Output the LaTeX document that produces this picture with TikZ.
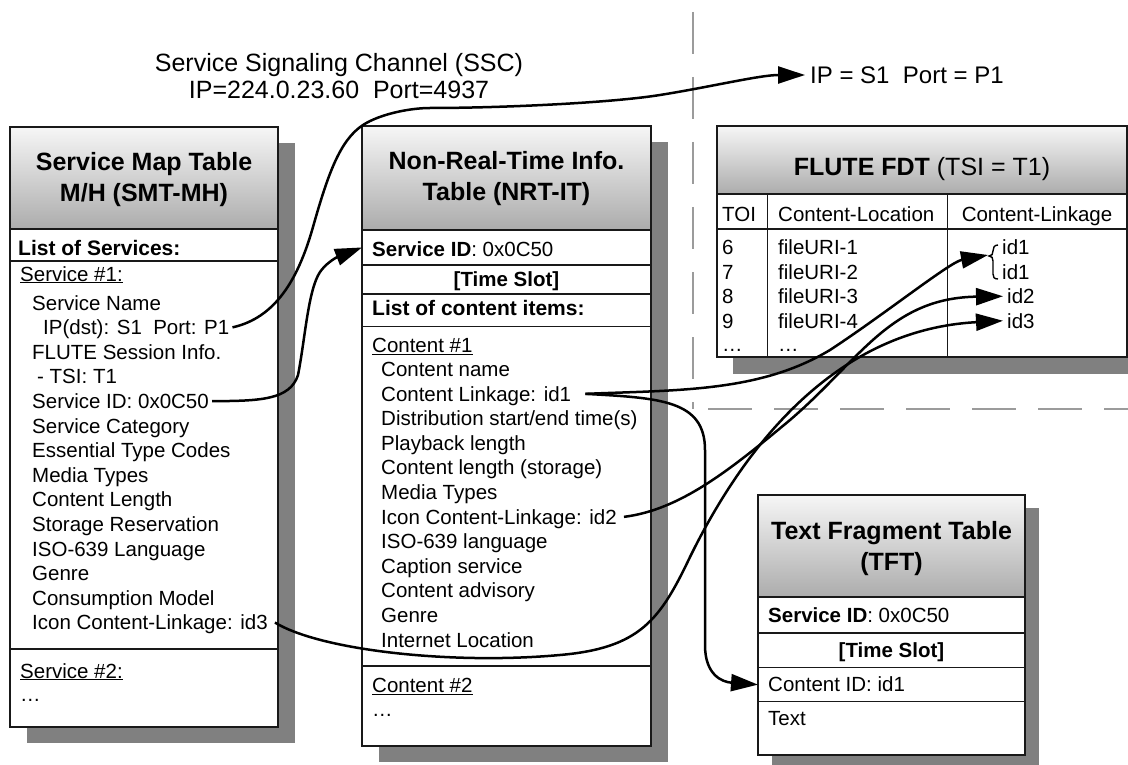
\documentclass[tikz,border=0pt]{standalone}
\usepackage{fontspec}
\setmainfont{Liberation Sans}
\usetikzlibrary{arrows.meta}
\definecolor{shadowgray}{RGB}{128,128,128}
\definecolor{hdrtop}{RGB}{246,246,246}
\definecolor{hdrbot}{RGB}{172,172,172}
\definecolor{dashgray}{RGB}{155,155,155}
\definecolor{edge}{RGB}{25,25,25}
\newcommand{\bodyfont}{\fontsize{20.5}{24.6}\selectfont}
\newcommand{\hdrfont}{\fontsize{25}{31}\selectfont\bfseries}
\newcommand{\lblfont}{\fontsize{25}{27}\selectfont}
\begin{document}
\begin{tikzpicture}[x=1pt,y=-1pt,
  bodybox/.style={fill=white,draw=edge,line width=1.3pt},
  hdrbox/.style={top color=hdrtop,bottom color=hdrbot,draw=edge,line width=1.3pt},
  sepline/.style={draw=edge,line width=1.3pt},
  colline/.style={draw=edge,line width=1pt},
  cell/.style={draw=edge,line width=1.3pt,inner sep=0pt,anchor=north west},
  txt/.style={anchor=base west,inner sep=0pt,font=\bodyfont,text height=14.5pt,text depth=0pt},
  ctxt/.style={txt,anchor=base,font=\bodyfont\bfseries},
  boldtxt/.style={txt,font=\fontsize{21}{25}\selectfont\bfseries},
  hdrtxt/.style={align=center,inner sep=0pt,font=\hdrfont},
  conn/.style={draw=black,line width=2.5pt},
  arrconn/.style={conn,-{Triangle[length=27pt 0 0,width=17pt 0 0]}},
  dashline/.style={draw=dashgray,line width=2.5pt,dash pattern=on 42pt off 23pt}
]
\useasboundingbox (0,0) rectangle (1128,765);
\fill[white] (0,0) rectangle (1128,765);

% dashed separators
\draw[dashline] (693,12) -- (693,409);
\draw[dashline,dash pattern=on 44pt off 22pt] (708,409) -- (1128,409);

% top labels
\node[align=center,inner sep=0pt,font=\lblfont] (ssc) at (339,76)
  {Service Signaling Channel (SSC)\\IP=224.0.23.60~~Port=4937};
\node[anchor=base west,inner sep=0pt,font=\fontsize{24}{28}\selectfont,text height=17pt,text depth=0pt]
  (ipsp) at (810,83.5) {IP = S1~~Port = P1};

% ---------- SMT-MH ----------
\fill[shadowgray] (27,143) rectangle (295,743);
\path[bodybox] (10,127) rectangle (278,727);
\path[hdrbox] (10,127) rectangle (278,229);
\draw[sepline] (10,261) -- (278,261);
\draw[sepline] (10,649) -- (278,649);
\node[hdrtxt] (smttitle) at (144,180) {Service Map Table\\M/H (SMT-MH)};
\node[boldtxt] (smtlist) at (18,255.5) {List of Services:};
\node[txt] (smts1) at (20,281) {\underline{Service \#1:}};
\node[txt] (smtname) at (32,310) {Service Name};
\node[txt] (smtip) at (43,334.6) {IP(dst): S1~~Port: P1};
\node[txt] (smtflute) at (32,359.2) {FLUTE Session Info.};
\node[txt] (smttsi) at (37,383.8) {- TSI: T1};
\node[txt] (smtsid) at (32,408.4) {Service ID: 0x0C50};
\node[txt] (smtcat) at (32,433) {Service Category};
\node[txt] (smtess) at (32,457.6) {Essential Type Codes};
\node[txt] (smtmedia) at (32,482.2) {Media Types};
\node[txt] (smtlen) at (32,506.8) {Content Length};
\node[txt] (smtstor) at (32,531.4) {Storage Reservation};
\node[txt] (smtiso) at (32,556) {ISO-639 Language};
\node[txt] (smtgenre) at (32,580.6) {Genre};
\node[txt] (smtcons) at (32,605.2) {Consumption Model};
\node[txt] (smtid3) at (32,629.8) {Icon Content-Linkage: id3};
\node[txt] (smts2) at (20,678) {\underline{Service \#2:}};
\node[txt] (smtdots) at (20,701.7) {…};

% ---------- NRT-IT ----------
\fill[shadowgray] (379,142) rectangle (668,762);
\path[bodybox] (362,126) rectangle (651,746);
\path[hdrbox] (362,126) rectangle (651,229.3);
\node[cell,minimum width=289pt,minimum height=35pt] (nrtsidrow) at (362,229.3) {};
\draw[sepline] (362,294) -- (651,294);
\draw[sepline] (362,326.7) -- (651,326.7);
\draw[sepline] (362,666) -- (651,666);
\node[hdrtxt] (nrttitle) at (506.5,178.7) {Non-Real-Time Info.\\Table (NRT-IT)};
\node[txt] (nrtsid) at (372,256.5) {\textbf{Service ID}: 0x0C50};
\node[ctxt] (nrtslot) at (506.5,286.5) {[Time Slot]};
\node[boldtxt] (nrtlist) at (372,315.5) {List of content items:};
\node[txt] (nrtc1) at (372,352.5) {\underline{Content \#1}};
\node[txt] (nrtname) at (381,376.5) {Content name};
\node[txt] (nrtlink) at (381,401.1) {Content Linkage: id1};
\node[txt] (nrtdist) at (381,425.7) {Distribution start/end time(s)};
\node[txt] (nrtplay) at (381,450.3) {Playback length};
\node[txt] (nrtclen) at (381,474.9) {Content length (storage)};
\node[txt] (nrtmedia) at (381,499.5) {Media Types};
\node[txt] (nrtid2) at (381,524.1) {Icon Content-Linkage: id2};
\node[txt] (nrtiso) at (381,548.7) {ISO-639 language};
\node[txt] (nrtcap) at (381,573.3) {Caption service};
\node[txt] (nrtadv) at (381,597.9) {Content advisory};
\node[txt] (nrtgenre) at (381,622.5) {Genre};
\node[txt] (nrtinet) at (381,647.1) {Internet Location};
\node[txt] (nrtc2) at (372,692.7) {\underline{Content \#2}};
\node[txt] (nrtdots) at (372,716.7) {…};

% ---------- FLUTE FDT ----------
\fill[shadowgray] (733,142) rectangle (1143,374);
\path[bodybox] (717,126) rectangle (1127,357);
\path[hdrbox] (717,126) rectangle (1127,194);
\draw[sepline] (717,229) -- (1127,229);
\draw[colline] (767,194) -- (767,357);
\draw[colline] (947,194) -- (947,357);
\node[anchor=base,inner sep=0pt,font=\fontsize{25}{30}\selectfont] (fdttitle) at (922,175.7)
  {\textbf{FLUTE FDT} (TSI = T1)};
\node[txt] (fdttoi) at (722,221.5) {TOI};
\node[txt] (fdtloc) at (778,221.5) {Content-Location};
\node[txt,anchor=base] (fdtlink) at (1037,221.5) {Content-Linkage};
\node[txt] (t6) at (722,254.5) {6};
\node[txt] (t7) at (722,279) {7};
\node[txt] (t8) at (722,303.5) {8};
\node[txt] (t9) at (722,328) {9};
\node[txt] (tdots) at (722,351) {…};
\node[txt] (f1) at (778,254.5) {fileURI-1};
\node[txt] (f2) at (778,279) {fileURI-2};
\node[txt] (f3) at (778,303.5) {fileURI-3};
\node[txt] (f4) at (778,328) {fileURI-4};
\node[txt] (fdots) at (778,351) {…};
\node[txt] (fdtid1a) at (1002,254.5) {id1};
\node[txt] (fdtid1b) at (1002,279) {id1};
\node[txt] (fdtid2) at (1007,303.5) {id2};
\node[txt] (fdtid3) at (1007,328) {id3};
\draw[line width=1.4pt] (998,245) .. controls (994,245) and (993,248) .. (993,251)
  .. controls (993,254) and (992,256) .. (989,256)
  .. controls (992,256) and (993,258) .. (993,261) -- (993,274)
  .. controls (993,277) and (994,279) .. (998,279);
\coordinate (bracetip) at (988,255);

% ---------- TFT ----------
\fill[shadowgray] (772,508) rectangle (1039,770);
\path[bodybox] (758,495) rectangle (1025,755);
\path[hdrbox] (758,495) rectangle (1025,597);
\draw[sepline] (758,633) -- (1025,633);
\node[cell,minimum width=267pt,minimum height=34pt] (tftcidrow) at (758,667) {};
\node[hdrtxt] (tfttitle) at (891.5,548.5) {Text Fragment Table\\(TFT)};
\node[txt] (tftsid) at (768,622.5) {\textbf{Service ID}: 0x0C50};
\node[ctxt] (tftslot) at (891.5,657.5) {[Time Slot]};
\node[txt] (tftcid) at (768,691.5) {Content ID: id1};
\node[txt] (tfttext) at (768,725.5) {Text};

% ---------- connectors ----------
\draw[arrconn] ([xshift=3pt]smtip.east) .. controls (275,318) and (298,280) .. (313,227)
  .. controls (328,174) and (340,140) .. (363,125)
  .. controls (380,114) and (410,108) .. (430,108)
  .. controls (500,108) and (610,103) .. (660,95)
  .. controls (710,87) and (760,75) .. ([xshift=-5pt]ipsp.west);
\draw[arrconn] ([xshift=3pt]smtsid.east) .. controls (260,401) and (290,400) .. (298,375)
  .. controls (305,340) and (308,290) .. (320,272)
  .. controls (330,258) and (345,254) .. (nrtsidrow.west);
\draw[arrconn] ([xshift=14pt]nrtlink.east) .. controls (680,390) and (760,392) .. (830,350)
  .. controls (885,314) and (950,262) .. (bracetip);
\draw[arrconn] ([xshift=14pt]nrtlink.east) .. controls (660,398) and (705,400) .. (705,450)
  -- (705,645) .. controls (705,675) and (722,682) .. (tftcidrow.west);
\draw[arrconn] ([xshift=7pt]nrtid2.east) .. controls (680,510) and (730,470) .. (790,420)
  .. controls (860,360) and (890,298) .. ([xshift=-4pt]fdtid2.west);
\draw[arrconn] ([xshift=7pt]smtid3.east) .. controls (320,650) and (450,665) .. (560,655)
  .. controls (640,648) and (660,620) .. (690,557)
  .. controls (740,455) and (830,330) .. ([xshift=-4pt]fdtid3.west);
\end{tikzpicture}
\end{document}
